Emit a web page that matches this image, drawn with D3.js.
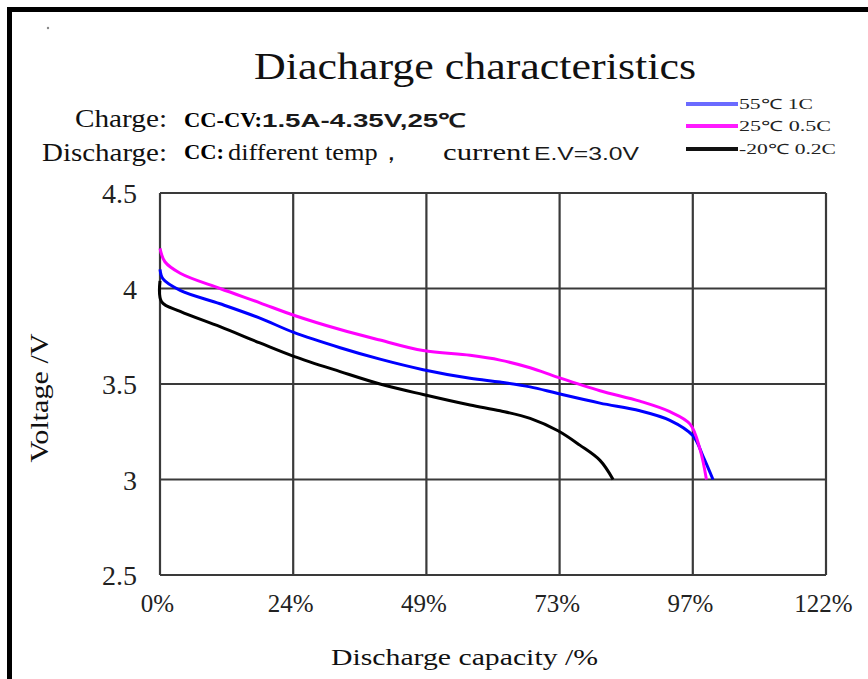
<!DOCTYPE html>
<html>
<head>
<meta charset="utf-8">
<script src="https://cdn.jsdelivr.net/npm/d3@7/dist/d3.min.js"></script>
<style>
  body { margin: 0; background: #fff; }
  svg { display: block; }
</style>
</head>
<body>
<svg id="chart" width="868" height="679"></svg>
<script>
// axis ticks
var capacityTicks = [0, 24.4, 48.8, 73.2, 97.6, 122]
var capacityTickLabels = ["0%", "24%", "49%", "73%", "97%", "122%"]
var voltageTicks = [2.5, 3, 3.5, 4, 4.5]
var voltageTickLabels = ["2.5", "3", "3.5", "4", "4.5"]

// series (capacity %, voltage V)
var seriesNames = ["55℃ 1C", "25℃ 0.5C", "-20℃ 0.2C"]
var seriesColours = ["#0000ff", "#ff00ff", "#000000"]
var legendColours = ["#6b6bff", "#ff1aff", "#111111"]

var capacity55 = [0, 0.55, 3.7, 11.0, 18.3, 24.5, 33.0, 40.3, 48.2, 56.8, 62.3, 67.8, 72.9, 80.6, 87.9, 93.4, 97.6, 99.5, 101.3]
var voltage55 = [4.10, 4.05, 3.99, 3.92, 3.845, 3.77, 3.69, 3.63, 3.575, 3.53, 3.51, 3.485, 3.45, 3.40, 3.36, 3.31, 3.23, 3.12, 3.0]

var capacity25 = [0, 0.9, 3.7, 11.0, 18.3, 24.5, 33.0, 40.3, 48.2, 56.8, 62.3, 67.8, 72.9, 80.6, 87.9, 93.4, 97.1, 98.9, 100.1]
var voltage25 = [4.21, 4.14, 4.08, 4.0, 3.925, 3.86, 3.785, 3.73, 3.675, 3.65, 3.625, 3.585, 3.535, 3.465, 3.41, 3.355, 3.29, 3.16, 3.0]

var capacityMinus20 = [0, 0.3, 3.7, 11.0, 18.3, 24.5, 33.0, 40.3, 48.2, 56.8, 62.3, 67.8, 72.9, 76.9, 80.6, 83.0]
var voltageMinus20 = [4.04, 3.93, 3.88, 3.80, 3.715, 3.645, 3.565, 3.50, 3.445, 3.39, 3.36, 3.32, 3.255, 3.18, 3.10, 3.0]

var seriesCapacity = [capacity55, capacity25, capacityMinus20]
var seriesVoltage = [voltage55, voltage25, voltageMinus20]

var svg = d3.select("#chart")
var serif = "'Liberation Serif', 'Times New Roman', serif"
var sans = "'Liberation Sans', Arial, sans-serif"

// outer frame: only top and left edges show
svg.append("rect").attr("x", 0).attr("y", 0).attr("width", 868).attr("height", 679).attr("fill", "#fff")
svg.append("line").attr("x1", 7).attr("x2", 868).attr("y1", 9.5).attr("y2", 9.5)
  .attr("stroke", "#000").attr("stroke-width", 5)
svg.append("line").attr("x1", 9.5).attr("x2", 9.5).attr("y1", 7).attr("y2", 679)
  .attr("stroke", "#000").attr("stroke-width", 5)
svg.append("circle").attr("cx", 48).attr("cy", 28).attr("r", 1.2).attr("fill", "#888")

var x = d3.scaleLinear().domain([0, 122]).range([160, 826])
var y = d3.scaleLinear().domain([2.5, 4.5]).range([575, 193])

function text(content, px, py, opts) {
  var t = svg.append("text")
    .attr("x", px).attr("y", py)
    .attr("font-family", opts.font || serif)
    .attr("font-size", opts.size)
    .attr("font-weight", opts.weight || "normal")
    .attr("fill", opts.fill || "#111")
    .attr("text-anchor", opts.anchor || "start")
    .text(content)
  if (opts.width) {
    t.attr("textLength", opts.width).attr("lengthAdjust", "spacingAndGlyphs")
  }
  return t
}

// title and notes
text("Diacharge characteristics", 254, 79, {size: 38, width: 442})
text("Charge:", 75, 127, {size: 25, width: 92})
text("CC-CV:", 184, 127, {size: 22, weight: "bold", width: 78, fill: "#000"})
text("1.5A-4.35V,25℃", 262, 127, {size: 19, weight: "bold", font: sans, width: 204, fill: "#1a1a1a"})
text("Discharge:", 42, 161, {size: 25, width: 125})
text("CC:", 184, 159, {size: 22, weight: "bold", width: 40, fill: "#000"})
text("different temp，", 228, 160, {size: 24, width: 176})
text("current", 443, 160, {size: 24, width: 87})
text("E.V=3.0V", 534, 160, {size: 19, font: sans, width: 105, fill: "#1a1a1a"})

// grid
var grid = svg.append("g").attr("stroke", "#3a3a3a").attr("stroke-width", 2.2)
grid.selectAll("line.v").data(capacityTicks).enter().append("line")
  .attr("x1", function(d){ return x(d) }).attr("x2", function(d){ return x(d) })
  .attr("y1", y(4.5)).attr("y2", y(2.5))
grid.selectAll("line.h").data(voltageTicks).enter().append("line")
  .attr("x1", x(0)).attr("x2", x(122))
  .attr("y1", function(d){ return y(d) }).attr("y2", function(d){ return y(d) })

// axes via d3 for tick text placement
var xAxis = d3.axisBottom(x).tickValues(capacityTicks)
  .tickFormat(function(d, i){ return capacityTickLabels[i] }).tickSize(0).tickPadding(0)
var xg = svg.append("g").attr("transform", "translate(0,575)").call(xAxis)
xg.select(".domain").remove()
xg.selectAll("text").attr("font-family", serif).attr("font-size", 25).attr("fill", "#222")
  .attr("dy", null).attr("y", 37).attr("dx", -3)

var yAxis = d3.axisLeft(y).tickValues(voltageTicks)
  .tickFormat(function(d, i){ return voltageTickLabels[i] }).tickSize(0).tickPadding(23)
var yg = svg.append("g").attr("transform", "translate(160,0)").call(yAxis)
yg.select(".domain").remove()
yg.selectAll("text").attr("font-family", serif).attr("font-size", 28).attr("fill", "#222")
  .attr("dy", "0.35em")

text("Discharge capacity /%", 331, 665, {size: 24, width: 267})
text("Voltage /V", 0, 0, {size: 25, width: 129, anchor: "middle"})
  .attr("transform", "translate(48,398) rotate(-90)")

// curves
var line = d3.line()
  .x(function(d){ return x(d[0]) })
  .y(function(d){ return y(d[1]) })
  .curve(d3.curveCatmullRom.alpha(0.5))

var curves = seriesNames.map(function(name, i){
  return seriesCapacity[i].map(function(c, j){ return [c, seriesVoltage[i][j]] })
})

svg.append("g").selectAll("path").data(curves).enter().append("path")
  .attr("d", line)
  .attr("fill", "none")
  .attr("stroke", function(d, i){ return seriesColours[i] })
  .attr("stroke-width", 3)
  .attr("stroke-linejoin", "round")

// legend
var legendY = [104, 126, 149]
var legendWidths = [74, 92, 97]
var legend = svg.append("g")
seriesNames.forEach(function(name, i){
  legend.append("line")
    .attr("x1", 686).attr("x2", 738)
    .attr("y1", legendY[i]).attr("y2", legendY[i])
    .attr("stroke", legendColours[i]).attr("stroke-width", 4)
  text(name, 739, legendY[i] + 5, {size: 14, width: legendWidths[i], fill: "#222"})
})
</script>
</body>
</html>
